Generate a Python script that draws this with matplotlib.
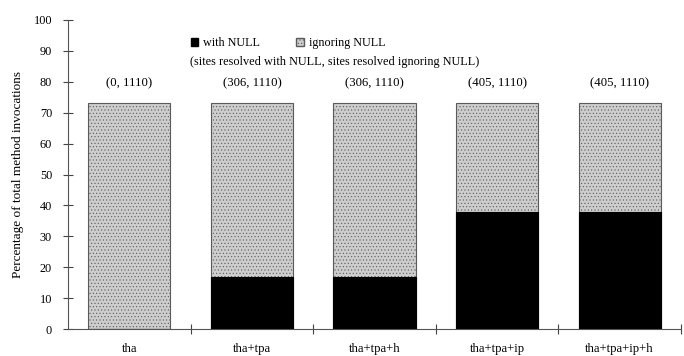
import numpy as np
import matplotlib
matplotlib.use('Agg')
import matplotlib.pyplot as plt
from matplotlib.patches import Patch

configs = ['tha', 'tha+tpa', 'tha+tpa+h', 'tha+tpa+ip', 'tha+tpa+ip+h']
ignoring_null = [73.3, 73.3, 73.3, 73.3, 73.3]
with_null = [0, 16.7, 16.7, 38.0, 38.0]
site_labels = ['(0, 1110)', '(306, 1110)', '(306, 1110)', '(405, 1110)', '(405, 1110)']

plt.rcParams['font.family'] = ['Liberation Serif', 'DejaVu Serif']
plt.rcParams['hatch.linewidth'] = 0.4

fig = plt.figure(figsize=(6.84, 3.56), dpi=100)
ax = fig.add_axes([68 / 684, 27 / 356, 613 / 684, 309 / 356])

x = np.arange(len(configs))
w = 0.67
fill = '#cdcdcd'
ax.bar(x, ignoring_null, w, color=fill, edgecolor='#5a5a5a',
       hatch='.....', linewidth=0.8, label='ignoring NULL')
ax.bar(x, with_null, w, color='black', edgecolor='black',
       linewidth=0.8, label='with NULL')

# counts above each bar
for xi, lab in zip(x, site_labels):
    ax.text(xi, 79.6, lab, ha='center', va='center', fontsize=9.2)

ax.set_xlim(-0.5, 4.5)
ax.set_ylim(0, 100)
ax.set_yticks(np.arange(0, 101, 10))
ax.set_xticks(x)
ax.set_xticklabels(configs, fontsize=9.2)
ax.set_xticks(x + 0.5, minor=True)
ax.tick_params(axis='x', which='major', length=0, pad=10)
ax.tick_params(axis='x', which='minor', direction='inout', length=7, width=0.8, color='#444444')
ax.tick_params(axis='y', direction='inout', length=7, width=0.8, color='#444444',
               labelsize=8.8, pad=8)

for s in ['top', 'right']:
    ax.spines[s].set_visible(False)
ax.spines['left'].set_color('#555555')
ax.spines['left'].set_linewidth(0.8)
ax.spines['bottom'].set_color('#555555')
ax.spines['bottom'].set_linewidth(0.8)

ax.set_ylabel('Percentage of total method invocations', fontsize=9.5, labelpad=7)

handles = [Patch(facecolor='black', edgecolor='black'),
           Patch(facecolor=fill, edgecolor='#5a5a5a', hatch='.....')]
fig.legend(handles, ['with NULL', 'ignoring NULL'], ncol=2, frameon=False,
           loc='center', bbox_to_anchor=(288 / 684, 1 - 43 / 356), fontsize=8.7,
           handlelength=0.65, handleheight=0.65, handletextpad=0.4, columnspacing=3.0,
           borderpad=0)
fig.text(335 / 684, 1 - 62 / 356,
         '(sites resolved with NULL, sites resolved ignoring NULL)',
         ha='center', va='center', fontsize=8.8)

fig.savefig('out.png', dpi=100)
